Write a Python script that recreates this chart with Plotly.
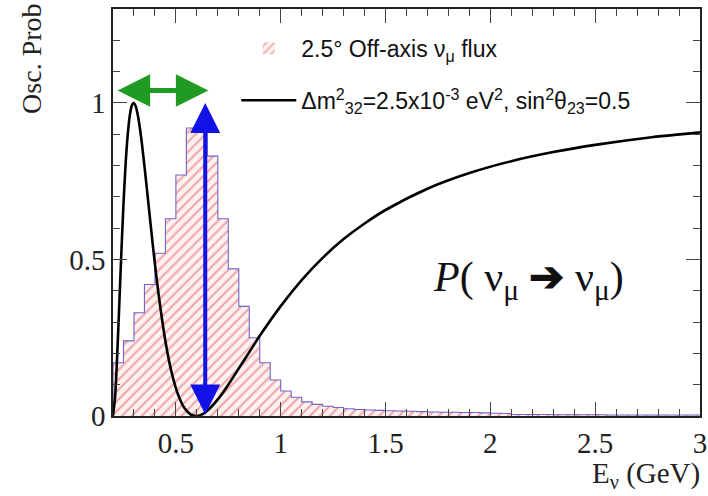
import plotly.graph_objects as go

# ---- data ----
# oscillation probability curve (E in GeV, P survival)
curve_E = [0.20, 0.21, 0.22, 0.23, 0.24, 0.25, 0.26, 0.27, 0.28, 0.29, 0.30, 0.31, 0.32,
           0.33, 0.34, 0.36, 0.38, 0.40, 0.42, 0.45, 0.48, 0.51, 0.54, 0.57, 0.60, 0.63,
           0.66, 0.70, 0.75, 0.80, 0.85, 0.90, 1.0, 1.1, 1.2, 1.3, 1.4, 1.5, 1.7, 1.9,
           2.1, 2.3, 2.5, 2.75, 3.0]
curve_P = [0.001, 0.062, 0.193, 0.357, 0.524, 0.677, 0.803, 0.897, 0.959, 0.992, 1.0, 0.986,
           0.955, 0.911, 0.858, 0.736, 0.608, 0.485, 0.376, 0.239, 0.138, 0.069, 0.026,
           0.005, 0.0, 0.007, 0.023, 0.053, 0.100, 0.152, 0.204, 0.256, 0.351, 0.434,
           0.505, 0.565, 0.615, 0.658, 0.726, 0.776, 0.814, 0.843, 0.866, 0.889, 0.906]

# off-axis flux histogram: bin low edges (GeV), bin width, normalized heights
bin_width = 0.05
bin_low = [round(0.20 + bin_width * i, 2) for i in range(56)]
flux = [0.17, 0.24, 0.33, 0.42, 0.52, 0.63, 0.77, 0.92, 0.92, 0.83, 0.63, 0.47, 0.35, 0.25,
        0.17, 0.115, 0.08, 0.06, 0.045, 0.037, 0.031, 0.027, 0.023, 0.021, 0.019, 0.018,
        0.017, 0.016, 0.015, 0.014, 0.013, 0.012, 0.012, 0.011, 0.011, 0.010, 0.009,
        0.008, 0.005, 0.005, 0.005, 0.005, 0.004, 0.004, 0.004, 0.004, 0.004, 0.003,
        0.003, 0.003, 0.003, 0.003, 0.003, 0.003, 0.003, 0.003]

x_tickvals = [0.5, 1, 1.5, 2, 2.5, 3]
x_ticktext = ["0.5", "1", "1.5", "2", "2.5", "3"]
y_tickvals = [0, 0.5, 1]
y_ticktext = ["0", "0.5", "1"]

# arrows: green = first maximum width (E_lo, E_hi, P), blue = first minimum (E, P_top, P_bottom)
green_arrow = [0.215, 0.655, 1.04]
blue_arrow = [0.64, 1.0, 0.0]

serif = "Liberation Serif, Times New Roman, serif"
sans = "Liberation Sans, Arial, sans-serif"

fig = go.Figure()

fig.add_trace(go.Bar(
    x=bin_low, y=flux, width=bin_width, offset=0,
    name="2.5° Off-axis ν<sub>μ</sub> flux", legendgroup="a",
    marker=dict(color="#fdf0f0", line=dict(width=0),
                pattern=dict(shape="/", fgcolor="#e05a5a", bgcolor="#fdf0f0",
                             size=7, solidity=0.28)),
))
# step outline of the histogram
step_x = [bin_low[0]] + bin_low + [bin_low[-1] + bin_width]
step_y = [0] + flux + [flux[-1]]
fig.add_trace(go.Scatter(
    x=step_x, y=step_y, mode="lines", line=dict(color="#7064c8", width=1.1, shape="hv"),
    showlegend=False, hoverinfo="skip", legendgroup="a",
))
fig.add_trace(go.Scatter(
    x=curve_E, y=curve_P, mode="lines", legendgroup="b",
    name="Δm<sup>2</sup><sub>32</sub>=2.5x10<sup>-3</sup> eV<sup>2</sup>, sin<sup>2</sup>θ<sub>23</sub>=0.5",
    line=dict(color="black", width=2.6, shape="spline", smoothing=0.8),
))

# green double arrow
fig.add_annotation(x=green_arrow[1], y=green_arrow[2], ax=green_arrow[0], ay=green_arrow[2],
                   xref="x", yref="y", axref="x", ayref="y", text="", showarrow=True,
                   arrowhead=2, startarrowhead=2, arrowside="end+start",
                   arrowsize=1.3, startarrowsize=1.3, arrowwidth=5, arrowcolor="#1f9a22",
                   standoff=0, startstandoff=0)
# blue double arrow
fig.add_annotation(x=blue_arrow[0], y=blue_arrow[1], ax=blue_arrow[0], ay=blue_arrow[2],
                   xref="x", yref="y", axref="x", ayref="y", text="", showarrow=True,
                   arrowhead=2, startarrowhead=2, arrowside="end+start",
                   arrowsize=1.5, startarrowsize=1.5, arrowwidth=4, arrowcolor="#1212e6",
                   standoff=0, startstandoff=0)

# formula text
fig.add_annotation(x=2.18, y=0.435, xref="x", yref="y", showarrow=False,
                   text="<i>P</i>( ν<sub>μ</sub> <b>➔</b> ν<sub>μ</sub>)",
                   font=dict(family=serif, size=42, color="#111"))

# axis titles (ROOT style, at the ends)
fig.add_annotation(x=-0.14, y=1.017, xref="paper", yref="paper", showarrow=False,
                   text="Osc. Prob", textangle=-90, xanchor="center", yanchor="top",
                   font=dict(family=serif, size=28, color="#222"))
fig.add_annotation(x=1.003, y=-0.145, xref="paper", yref="paper", showarrow=False,
                   text="E<sub>ν</sub> (GeV)", xanchor="right", yanchor="middle",
                   font=dict(family=serif, size=29, color="#222"))

axis_common = dict(showline=True, linecolor="#222", linewidth=1.5, mirror="allticks",
                   ticks="inside", ticklen=14, tickwidth=1.2, tickcolor="#444",
                   showgrid=False, zeroline=False, automargin=False,
                   ticklabeloverflow="allow",
                   tickfont=dict(family=serif, size=29, color="#222"))

fig.update_xaxes(range=[0.2, 3.0], tickvals=x_tickvals, ticktext=x_ticktext,
                 minor=dict(ticks="inside", ticklen=7, dtick=0.1, tick0=0, tickcolor="#444",
                            showgrid=False),
                 **axis_common)
fig.update_yaxes(range=[0, 1.3], tickvals=y_tickvals, ticktext=y_ticktext,
                 minor=dict(ticks="inside", ticklen=7, dtick=0.1, tick0=0, tickcolor="#444",
                            showgrid=False),
                 **axis_common)

fig.update_layout(
    width=708, height=496,
    margin=dict(l=113, r=8, t=9, b=80, autoexpand=False),
    paper_bgcolor="white", plot_bgcolor="white",
    bargap=0,
    legend=dict(x=0.21, y=0.956, xanchor="left", yanchor="top",
                bgcolor="rgba(0,0,0,0)", font=dict(family=sans, size=23, color="#111"),
                itemwidth=55, tracegroupgap=19, traceorder="grouped"),
)

# remove the default page margin so the 708x496 figure fills the window exactly
fig.write_html("out.html",
               config={"displayModeBar": False},
               post_script="document.body.style.margin='0';document.body.style.overflow='hidden';")
